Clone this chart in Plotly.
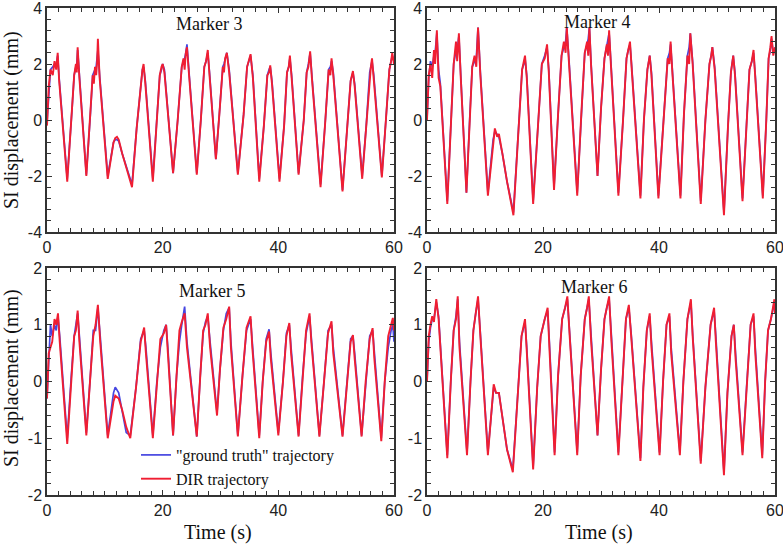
import plotly.graph_objects as go

# ---------------- data ----------------
# Marker 3 (top-left): time (s) and SI displacement (mm)
m3_t = [0.0, 0.3, 0.6, 1.0, 1.3, 1.6, 1.85, 2.1, 3.5,
        4.3, 4.7, 5.0, 5.15, 5.3, 5.6, 6.8,
        7.5, 7.9, 8.1, 8.3, 8.5, 8.65, 8.8, 9.1, 10.5,
        11.5, 11.8, 12.1, 12.4, 13.0, 14.0, 14.7,
        15.5, 16.3, 16.5, 16.7, 17.0, 18.3,
        19.0, 19.5, 19.8, 20.0, 20.3, 21.8,
        22.6, 23.3, 23.6, 23.8, 24.0, 24.2, 24.6, 25.9,
        26.6, 27.2, 27.5, 27.8, 28.1, 29.2,
        29.8, 30.4, 30.6, 30.8, 31.1, 31.5, 33.0,
        34.0, 34.6, 34.9, 35.2, 35.6, 36.7,
        37.5, 38.1, 38.4, 38.6, 38.9, 40.2,
        41.0, 41.5, 41.8, 42.0, 42.3, 43.5,
        44.4, 44.9, 45.2, 45.5, 45.8, 47.3,
        48.1, 48.7, 49.0, 49.2, 49.5, 51.1,
        51.9, 52.5, 52.9, 53.2, 54.5,
        55.2, 55.8, 56.0, 56.2, 56.5, 57.9,
        58.6, 59.2, 59.5, 59.7, 60.0]
m3_dir = [-0.2, 1.2, 1.8, 1.6, 2.1, 1.8, 2.4, 1.4, -2.2,
          0.3, 1.6, 2.0, 1.7, 2.6, 1.5, -2.0,
          0.2, 1.6, 1.3, 1.9, 1.6, 2.0, 2.9, 1.5, -2.1,
          -0.8, -0.65, -0.6, -0.7, -1.2, -1.9, -2.4,
          -0.3, 1.5, 1.8, 2.0, 1.3, -2.2,
          0.0, 1.6, 1.9, 2.0, 1.7, -1.9,
          0.0, 1.9, 2.2, 1.8, 2.4, 2.6, 1.5, -1.95,
          0.0, 1.9, 2.1, 2.5, 1.6, -1.4,
          0.2, 1.9, 1.7, 2.2, 2.4, 1.7, -1.95,
          0.2, 1.9, 2.1, 2.35, 1.5, -2.2,
          -0.2, 1.6, 1.7, 1.95, 1.3, -2.2,
          -0.2, 1.7, 1.9, 2.3, 1.5, -1.95,
          0.0, 1.7, 1.9, 2.45, 1.5, -2.4,
          -0.1, 1.8, 1.6, 2.2, 1.6, -2.55,
          -0.3, 1.4, 1.75, 1.2, -2.1,
          -0.2, 1.7, 1.9, 2.2, 1.5, -2.05,
          0.0, 1.8, 2.1, 2.4, 2.0]
m3_gt = [-0.1, 1.0, 1.8, 1.9, 2.0, 2.0, 2.3, 1.5, -2.1,
         0.3, 1.6, 1.9, 2.0, 2.5, 1.6, -1.95,
         0.2, 1.6, 1.7, 1.8, 1.9, 2.2, 2.5, 1.6, -2.0,
         -0.8, -0.7, -0.7, -0.75, -1.2, -1.9, -2.3,
         -0.3, 1.5, 1.8, 1.9, 1.4, -2.1,
         0.0, 1.6, 1.8, 2.0, 1.8, -1.9,
         0.0, 1.9, 2.1, 2.2, 2.4, 2.7, 1.6, -1.9,
         0.0, 1.9, 2.1, 2.4, 1.7, -1.4,
         0.2, 1.9, 2.0, 2.2, 2.4, 1.8, -1.9,
         0.2, 1.9, 2.1, 2.3, 1.6, -2.1,
         -0.2, 1.6, 1.8, 1.9, 1.4, -2.1,
         -0.2, 1.7, 1.9, 2.2, 1.6, -1.9,
         0.0, 1.7, 2.0, 2.4, 1.6, -2.3,
         -0.1, 1.8, 1.9, 2.1, 1.7, -2.5,
         -0.3, 1.4, 1.7, 1.3, -2.0,
         -0.2, 1.7, 1.9, 2.1, 1.6, -2.0,
         0.0, 1.8, 2.1, 2.3, 2.1]

# Marker 4 (top-right)
m4_t = [0.0, 0.3, 0.6, 0.9, 1.2, 1.4, 1.7, 2.0, 2.3, 3.5,
        4.2, 4.6, 5.0, 5.2, 5.5, 5.8, 6.8,
        7.4, 7.8, 8.2, 8.5, 8.8, 9.2, 10.5,
        11.4, 11.7, 12.1, 12.4, 13.0, 13.8, 14.9,
        15.7, 16.4, 16.7, 16.9, 17.2, 18.3,
        19.2, 19.8, 20.3, 20.7, 21.0, 21.9,
        22.6, 23.2, 23.6, 23.9, 24.1, 24.5, 25.9,
        26.6, 27.2, 27.6, 27.8, 28.0, 28.3, 29.4,
        30.0, 30.6, 31.0, 31.2, 31.4, 31.7, 33.0,
        33.8, 34.4, 34.7, 35.0, 35.3, 36.8,
        37.4, 38.0, 38.4, 38.7, 39.9,
        40.8, 41.5, 41.8, 42.0, 42.3, 43.7,
        44.3, 44.9, 45.2, 45.4, 45.8, 47.2,
        48.0, 48.7, 49.0, 49.2, 49.6, 51.2,
        51.9, 52.4, 52.8, 53.1, 54.4,
        55.1, 55.6, 56.0, 56.3, 56.6, 57.9,
        58.5, 58.9, 59.2, 59.4, 59.7, 60.0]
m4_dir = [0.0, 1.6, 2.0, 1.5, 2.5, 2.0, 3.2, 1.5, 1.2, -3.0,
          0.2, 2.0, 2.8, 2.1, 3.1, 1.6, -2.6,
          0.2, 1.9, 2.3, 1.9, 3.3, 1.6, -2.7,
          -0.7, -0.3, -0.6, -0.5, -1.2, -2.2, -3.4,
          -0.4, 1.8, 2.1, 2.3, 1.5, -3.0,
          0.0, 2.0, 2.2, 2.7, 1.7, -2.5,
          0.2, 2.3, 2.8, 2.4, 3.3, 2.0, -2.7,
          0.2, 2.4, 2.8, 2.3, 3.3, 1.9, -2.0,
          0.4, 2.2, 2.7, 2.3, 3.2, 2.0, -2.7,
          0.0, 2.2, 2.5, 2.8, 1.8, -2.8,
          0.0, 1.8, 2.3, 1.6, -2.8,
          0.0, 2.2, 2.0, 2.8, 1.7, -2.8,
          0.2, 2.3, 2.0, 3.1, 2.0, -3.0,
          0.0, 2.0, 2.3, 2.6, 1.8, -3.4,
          -0.2, 1.7, 2.3, 1.6, -2.9,
          -0.2, 1.8, 2.1, 2.5, 1.5, -2.8,
          0.0, 2.2, 2.6, 3.0, 2.3, 2.6]
m4_gt = [0.0, 1.5, 2.1, 1.9, 2.3, 2.4, 3.1, 1.8, 1.3, -2.9,
         0.2, 2.0, 2.5, 2.5, 3.0, 1.7, -2.6,
         0.2, 1.9, 2.1, 2.2, 3.3, 1.7, -2.6,
         -0.7, -0.4, -0.5, -0.6, -1.2, -2.2, -3.3,
         -0.4, 1.8, 2.0, 2.2, 1.6, -2.9,
         0.0, 2.0, 2.3, 2.6, 1.8, -2.4,
         0.2, 2.3, 2.6, 2.8, 3.3, 2.1, -2.6,
         0.2, 2.4, 2.7, 2.9, 3.3, 2.0, -2.0,
         0.4, 2.2, 2.6, 2.8, 3.1, 2.1, -2.6,
         0.0, 2.2, 2.5, 2.7, 1.9, -2.7,
         0.0, 1.8, 2.3, 1.7, -2.7,
         0.0, 2.2, 2.4, 2.7, 1.8, -2.7,
         0.2, 2.3, 2.6, 3.1, 2.1, -2.9,
         0.0, 2.0, 2.3, 2.6, 1.9, -3.3,
         -0.2, 1.7, 2.3, 1.7, -2.8,
         -0.2, 1.8, 2.1, 2.4, 1.6, -2.7,
         0.0, 2.2, 2.5, 2.9, 2.4, 2.5]

# Marker 5 (bottom-left)
m5_t = [0.0, 0.3, 0.6, 0.9, 1.3, 1.6, 1.9, 2.2, 3.5,
        4.2, 4.7, 5.0, 5.3, 5.6, 6.8,
        7.5, 8.0, 8.4, 8.8, 9.2, 10.5,
        11.5, 11.8, 12.4, 13.0, 13.7, 14.4,
        15.4, 16.2, 16.8, 17.1, 18.3,
        19.0, 19.6, 20.2, 20.6, 20.9, 21.8,
        22.4, 22.9, 23.3, 23.8, 24.2, 25.9,
        26.5, 27.0, 27.4, 27.8, 28.2, 29.4,
        29.9, 30.5, 31.0, 31.5, 31.8, 33.0,
        33.8, 34.5, 35.2, 35.5, 36.7,
        37.3, 37.9, 38.4, 38.7, 40.0,
        40.8, 41.4, 41.9, 42.2, 43.5,
        44.2, 44.8, 45.4, 45.7, 47.1,
        47.9, 48.6, 49.2, 49.5, 51.1,
        51.8, 52.5, 52.9, 53.2, 54.4,
        55.1, 55.8, 56.3, 56.6, 57.8,
        58.4, 59.0, 59.5, 59.8, 60.0]
m5_dir = [-0.3, 0.5, 0.6, 0.7, 1.1, 1.0, 1.2, 0.7, -1.1,
          0.1, 0.8, 0.9, 1.25, 0.7, -0.95,
          0.1, 0.8, 1.0, 1.35, 0.7, -1.0,
          -0.35, -0.25, -0.3, -0.5, -0.8, -1.0,
          -0.1, 0.7, 0.95, 0.5, -1.0,
          0.0, 0.75, 0.85, 1.0, 0.5, -0.95,
          0.1, 0.9, 1.05, 1.2, 0.6, -0.97,
          0.1, 0.9, 1.0, 1.2, 0.6, -0.6,
          0.2, 0.95, 1.1, 1.32, 0.6, -0.97,
          0.1, 0.95, 1.15, 0.6, -1.0,
          0.0, 0.7, 0.88, 0.4, -0.95,
          0.0, 0.8, 1.03, 0.5, -0.97,
          0.1, 0.9, 1.2, 0.7, -0.97,
          0.0, 0.85, 1.06, 0.5, -0.97,
          -0.1, 0.7, 0.82, 0.4, -0.97,
          0.0, 0.75, 0.94, 0.4, -1.05,
          0.0, 0.8, 1.0, 1.12, 0.9]
m5_gt = [-0.3, 0.4, 1.0, 0.8, 1.0, 0.9, 1.15, 0.8, -1.0,
         0.1, 0.8, 1.0, 1.2, 0.8, -0.9,
         0.1, 0.9, 0.9, 1.3, 0.8, -0.95,
         -0.2, -0.1, -0.2, -0.5, -0.9, -0.95,
         -0.1, 0.75, 0.9, 0.6, -0.95,
         0.0, 0.6, 0.9, 1.0, 0.6, -0.95,
         0.1, 0.7, 1.0, 1.32, 0.7, -0.97,
         0.1, 0.85, 1.05, 1.15, 0.7, -0.55,
         0.2, 0.9, 1.2, 1.3, 0.7, -0.95,
         0.1, 0.9, 1.1, 0.7, -0.95,
         0.0, 0.75, 0.92, 0.5, -0.9,
         0.0, 0.85, 1.0, 0.6, -0.95,
         0.1, 0.85, 1.15, 0.8, -0.95,
         0.0, 0.9, 1.0, 0.6, -0.95,
         -0.1, 0.75, 0.8, 0.5, -0.95,
         0.0, 0.8, 0.9, 0.5, -1.0,
         0.0, 0.6, 0.9, 1.0, 0.7]

# Marker 6 (bottom-right)
m6_t = [0.0, 0.3, 0.6, 0.9, 1.2, 1.6, 2.0, 3.5,
        4.1, 4.6, 5.0, 5.3, 5.6, 6.9,
        7.5, 8.0, 8.4, 8.8, 9.2, 10.5,
        11.5, 11.9, 12.4, 13.0, 13.8, 14.8,
        15.6, 16.3, 16.9, 17.2, 18.3,
        19.0, 19.6, 20.3, 20.8, 21.1, 22.0,
        22.6, 23.3, 23.8, 24.2, 24.6, 25.9,
        26.5, 27.2, 27.6, 27.9, 28.3, 29.4,
        30.0, 30.6, 31.0, 31.4, 31.8, 33.0,
        33.7, 34.3, 34.8, 35.2, 36.8,
        37.3, 37.9, 38.4, 38.7, 40.1,
        40.7, 41.3, 41.8, 42.1, 43.6,
        44.2, 44.9, 45.5, 45.8, 47.2,
        48.0, 48.9, 49.5, 49.8, 51.2,
        51.8, 52.5, 52.9, 53.2, 54.4,
        55.1, 55.8, 56.3, 56.6, 57.8,
        58.3, 58.8, 59.3, 59.9, 60.0]
m6_dir = [0.0, 0.8, 1.0, 1.15, 1.05, 1.45, 1.1, -1.35,
          0.0, 0.9, 1.1, 1.5, 0.6, -1.3,
          0.0, 0.9, 1.2, 1.5, 0.8, -1.3,
          -0.05, -0.2, -0.2, -0.6, -1.2, -1.6,
          -0.2, 0.8, 1.1, 0.5, -1.55,
          -0.1, 0.8, 1.1, 1.3, 0.6, -1.3,
          0.1, 1.1, 1.3, 1.5, 0.8, -1.3,
          0.1, 1.1, 1.3, 1.5, 0.7, -0.95,
          0.2, 1.1, 1.3, 1.5, 0.7, -1.3,
          0.0, 1.1, 1.35, 0.8, -1.4,
          -0.1, 0.9, 1.2, 0.6, -1.3,
          0.0, 1.0, 1.2, 0.5, -1.3,
          0.0, 1.1, 1.45, 0.8, -1.45,
          -0.1, 1.0, 1.3, 0.7, -1.65,
          -0.2, 0.8, 1.0, 0.4, -1.3,
          -0.1, 1.0, 1.2, 0.5, -1.35,
          0.0, 0.9, 1.1, 1.45, 1.2]
m6_gt = [0.0, 0.7, 0.95, 1.1, 1.1, 1.4, 1.15, -1.3,
         0.0, 0.9, 1.15, 1.45, 0.7, -1.25,
         0.0, 0.9, 1.2, 1.45, 0.85, -1.25,
         -0.1, -0.2, -0.2, -0.6, -1.2, -1.55,
         -0.2, 0.8, 1.05, 0.6, -1.5,
         -0.1, 0.8, 1.1, 1.25, 0.7, -1.25,
         0.1, 1.1, 1.3, 1.45, 0.85, -1.25,
         0.1, 1.1, 1.3, 1.45, 0.8, -0.95,
         0.2, 1.1, 1.3, 1.45, 0.8, -1.25,
         0.0, 1.1, 1.3, 0.85, -1.35,
         -0.1, 0.9, 1.15, 0.7, -1.25,
         0.0, 1.0, 1.15, 0.6, -1.25,
         0.0, 1.1, 1.4, 0.85, -1.4,
         -0.1, 1.0, 1.25, 0.8, -1.6,
         -0.2, 0.8, 1.0, 0.5, -1.25,
         -0.1, 1.0, 1.15, 0.6, -1.3,
         0.0, 0.9, 1.1, 1.4, 1.2]

panel_titles = ["Marker 3", "Marker 4", "Marker 5", "Marker 6"]
x_tickvals = [0, 20, 40, 60]
x_ticktext = ["0", "20", "40", "60"]
y_top_tickvals = [-4, -2, 0, 2, 4]
y_top_ticktext = ["-4", "-2", "0", "2", "4"]
y_bot_tickvals = [-2, -1, 0, 1, 2]
y_bot_ticktext = ["-2", "-1", "0", "1", "2"]

GT_NAME = '"ground truth" trajectory'
DIR_NAME = "DIR trajectory"
BLUE = "rgb(70,70,225)"
RED = "rgb(240,30,50)"

# ---------------- layout geometry ----------------
W, H = 783, 545
ML, MR, MT, MB = 47, 8, 5, 50
PW, PH = W - ML - MR, H - MT - MB


def px_x(p):
    return (p - ML) / PW


def px_y(p):
    return 1 - (p - MT) / PH


dom_x_left = [0, px_x(394)]
dom_x_right = [px_x(427), 1]
dom_y_top = [px_y(232), px_y(8)]
dom_y_bot = [0, px_y(268)]

fig = go.Figure()

panels = [
    (m3_t, m3_gt, m3_dir, "x", "y"),
    (m4_t, m4_gt, m4_dir, "x2", "y2"),
    (m5_t, m5_gt, m5_dir, "x3", "y3"),
    (m6_t, m6_gt, m6_dir, "x4", "y4"),
]
for i, (t, gv, dv, xa, ya) in enumerate(panels):
    fig.add_trace(go.Scatter(x=t, y=gv, mode="lines", name=GT_NAME,
                             line=dict(color=BLUE, width=1.7),
                             showlegend=(i == 0), legendrank=1,
                             xaxis=xa, yaxis=ya))
    fig.add_trace(go.Scatter(x=t, y=dv, mode="lines", name=DIR_NAME,
                             line=dict(color=RED, width=1.9),
                             showlegend=(i == 0), legendrank=2,
                             xaxis=xa, yaxis=ya))

AXC = "#333333"
tickfont = dict(family="Liberation Sans, Arial, sans-serif", size=16, color="#222")


def xaxis(domain, anchor):
    return dict(domain=domain, anchor=anchor, range=[0, 60], automargin=False,
                tickvals=x_tickvals, ticktext=x_ticktext, ticklabeloverflow="allow",
                ticks="inside", ticklen=5, tickwidth=1, tickcolor=AXC,
                minor=dict(dtick=2, tick0=0, ticks="inside", ticklen=4,
                           tickwidth=1, tickcolor=AXC),
                showline=True, linecolor=AXC, linewidth=1.5, mirror="allticks",
                showgrid=False, zeroline=False, tickfont=tickfont)


def yaxis(domain, anchor, rng, tv, tt, minor):
    return dict(domain=domain, anchor=anchor, range=rng, automargin=False,
                tickvals=tv, ticktext=tt, ticklabeloverflow="allow",
                ticks="inside", ticklen=5, tickwidth=1, tickcolor=AXC,
                minor=dict(dtick=minor, tick0=0, ticks="inside", ticklen=4,
                           tickwidth=1, tickcolor=AXC),
                showline=True, linecolor=AXC, linewidth=1.5, mirror="allticks",
                showgrid=False, zeroline=False, tickfont=tickfont)


fig.update_layout(
    xaxis=xaxis(dom_x_left, "y"),
    yaxis=yaxis(dom_y_top, "x", [-4, 4], y_top_tickvals, y_top_ticktext, 0.4),
    xaxis2=xaxis(dom_x_right, "y2"),
    yaxis2=yaxis(dom_y_top, "x2", [-4, 4], y_top_tickvals, y_top_ticktext, 0.4),
    xaxis3=xaxis(dom_x_left, "y3"),
    yaxis3=yaxis(dom_y_bot, "x3", [-2, 2], y_bot_tickvals, y_bot_ticktext, 0.2),
    xaxis4=xaxis(dom_x_right, "y4"),
    yaxis4=yaxis(dom_y_bot, "x4", [-2, 2], y_bot_tickvals, y_bot_ticktext, 0.2),
)

serif = "Liberation Serif, Times New Roman, serif"
ann = []
title_pos = [(209, 24), (597, 22), (212, 291), (594, 287)]
for txt, (tx, ty) in zip(panel_titles, title_pos):
    ann.append(dict(text=txt, x=px_x(tx), y=px_y(ty), xref="paper", yref="paper",
                    showarrow=False, xanchor="center", yanchor="middle",
                    font=dict(family=serif, size=18, color="#111")))
for ty in (120, 378):
    ann.append(dict(text="SI displacement (mm)", x=px_x(11), y=px_y(ty),
                    xref="paper", yref="paper", showarrow=False, textangle=-90,
                    xanchor="center", yanchor="middle",
                    font=dict(family=serif, size=20, color="#111")))
for tx in (218, 599):
    ann.append(dict(text="Time (s)", x=px_x(tx), y=px_y(532),
                    xref="paper", yref="paper", showarrow=False,
                    xanchor="center", yanchor="middle",
                    font=dict(family=serif, size=20, color="#111")))

fig.update_layout(
    width=W, height=H,
    margin=dict(l=ML, r=MR, t=MT, b=MB, autoexpand=False),
    paper_bgcolor="white", plot_bgcolor="white",
    annotations=ann,
    showlegend=True,
    legend=dict(x=px_x(136), y=px_y(438), xanchor="left", yanchor="top",
                bgcolor="rgba(255,255,255,0)", borderwidth=0,
                font=dict(family=serif, size=16, color="#111"),
                tracegroupgap=0, itemwidth=30),
)

fig.write_html(
    "out.html",
    config={"displayModeBar": False},
    post_script="document.body.style.margin='0';document.body.style.overflow='hidden';",
)
